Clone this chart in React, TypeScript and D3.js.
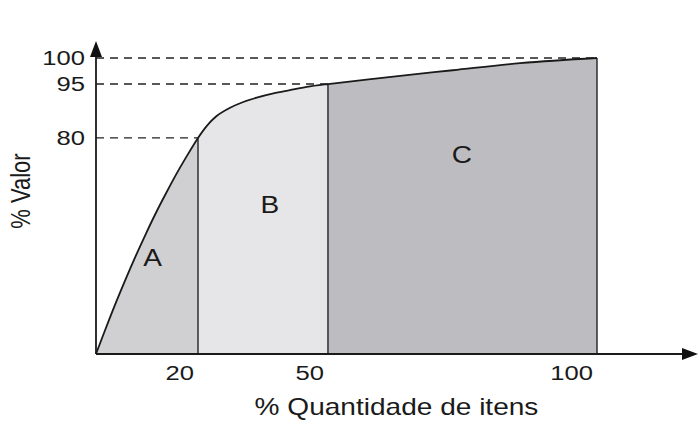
import * as d3 from "d3";
import React from "react";

// curve (data units: % items, % value)
const curveX = [0, 1.96, 3.92, 5.88, 7.84, 9.8, 11.76, 13.73, 15.69, 17.65, 20, 22.0, 24.3, 27.4, 30.45, 33.55, 37.4, 41.2, 45.1, 50, 60.9, 73.2, 85.7, 100];
const curveY = [0, 9.7, 19.1, 28.0, 36.5, 44.6, 52.3, 59.5, 66.4, 72.8, 80, 83.3, 86.1, 88.4, 90.0, 91.2, 92.4, 93.3, 94.2, 95, 96.3, 97.65, 99.0, 100];

const classLabels = ["A", "B", "C"];
const classBounds = [0, 20, 50, 100];
const classLabelX = [11.1, 36.6, 74.9];
const classLabelY = [35.4, 55.2, 73.7];

const xTicks = [20, 50, 100];
const yTicks = [80, 95, 100];

const W = 699;
const H = 424;
const margin = { left: 96, top: 58 };
const innerW = 501;
const innerH = 296;

const fills = ["#d0d0d2", "#e6e6e8", "#bdbdc1"];
const font = "'Liberation Sans', Arial, sans-serif";
const stretch = 1.22; // the source figure is wider than it is tall

const Label = ({
  x,
  y,
  size,
  anchor = "middle",
  rotate = 0,
  dy,
  children,
}: {
  x: number;
  y: number;
  size: number;
  anchor?: string;
  rotate?: number;
  dy?: string;
  children: React.ReactNode;
}) => (
  <text
    transform={`translate(${x},${y}) scale(${stretch},1) rotate(${rotate})`}
    textAnchor={anchor}
    fontSize={size}
    dy={dy}
  >
    {children}
  </text>
);

export default function App() {
  // schematic (non-uniform) axes, as in the original figure
  const x = d3.scaleLinear().domain([0, 20, 50, 100]).range([0, innerW * 0.2036, innerW * 0.463, innerW]);
  const y = d3.scaleLinear().domain([0, 80, 95, 100]).range([innerH, innerH * 0.27, innerH * 0.088, 0]);

  const pts: [number, number][] = curveX.map((v, i) => [v, curveY[i]]);

  const line = d3
    .line<[number, number]>()
    .x((d) => x(d[0]))
    .y((d) => y(d[1]))
    .curve(d3.curveCatmullRom.alpha(0.5));

  const area = d3
    .area<[number, number]>()
    .x((d) => x(d[0]))
    .y0(innerH)
    .y1((d) => y(d[1]))
    .curve(d3.curveCatmullRom.alpha(0.5));

  const segments = classLabels.map((_, i) =>
    pts.filter((p) => p[0] >= classBounds[i] && p[0] <= classBounds[i + 1])
  );

  const yAt = (v: number) => curveY[curveX.indexOf(v)];

  return (
    <svg width={W} height={H} style={{ position: "absolute", left: 0, top: 0, background: "#fff" }}>
      <g transform={`translate(${margin.left},${margin.top})`} fontFamily={font} fill="#1a1a1a">
        {segments.map((seg, i) => (
          <path key={i} d={area(seg) ?? ""} fill={fills[i]} stroke="none" />
        ))}

        {/* dashed guides */}
        {yTicks.map((t) => {
          const xv = curveX[curveY.indexOf(t)];
          return (
            <line key={t} x1={0} x2={x(xv)} y1={y(t)} y2={y(t)} stroke="#222" strokeWidth={1.4} strokeDasharray="8,6" />
          );
        })}

        {/* class separators */}
        {classBounds.slice(1).map((b) => (
          <line key={b} x1={x(b)} x2={x(b)} y1={innerH} y2={y(yAt(b))} stroke="#222" strokeWidth={1.4} />
        ))}

        <path d={line(pts) ?? ""} fill="none" stroke="#1a1a1a" strokeWidth={1.8} />

        {/* axes with arrows */}
        <line x1={0} x2={0} y1={innerH} y2={-4} stroke="#1a1a1a" strokeWidth={1.8} />
        <path d={`M0,-17 L-6,-1 L6,-1 Z`} fill="#111" />
        <line x1={0} x2={590} y1={innerH} y2={innerH} stroke="#1a1a1a" strokeWidth={1.8} />
        <path d={`M602,${innerH} L586,${innerH - 6} L586,${innerH + 6} Z`} fill="#111" />

        {yTicks.map((t) => (
          <Label key={t} x={-11} y={y(t)} dy="0.35em" anchor="end" size={21}>
            {t}
          </Label>
        ))}
        {xTicks.map((t) => (
          <Label key={t} x={x(t) - 4} y={innerH + 26} anchor="end" size={21}>
            {t}
          </Label>
        ))}

        {classLabels.map((c, i) => (
          <Label key={c} x={x(classLabelX[i])} y={y(classLabelY[i])} dy="0.35em" size={23}>
            {c}
          </Label>
        ))}

        <Label x={300.5} y={innerH + 61} size={23}>
          % Quantidade de itens
        </Label>
        <Label x={-66} y={innerH / 2 - 15} size={22} rotate={-90}>
          % Valor
        </Label>
      </g>
    </svg>
  );
}
